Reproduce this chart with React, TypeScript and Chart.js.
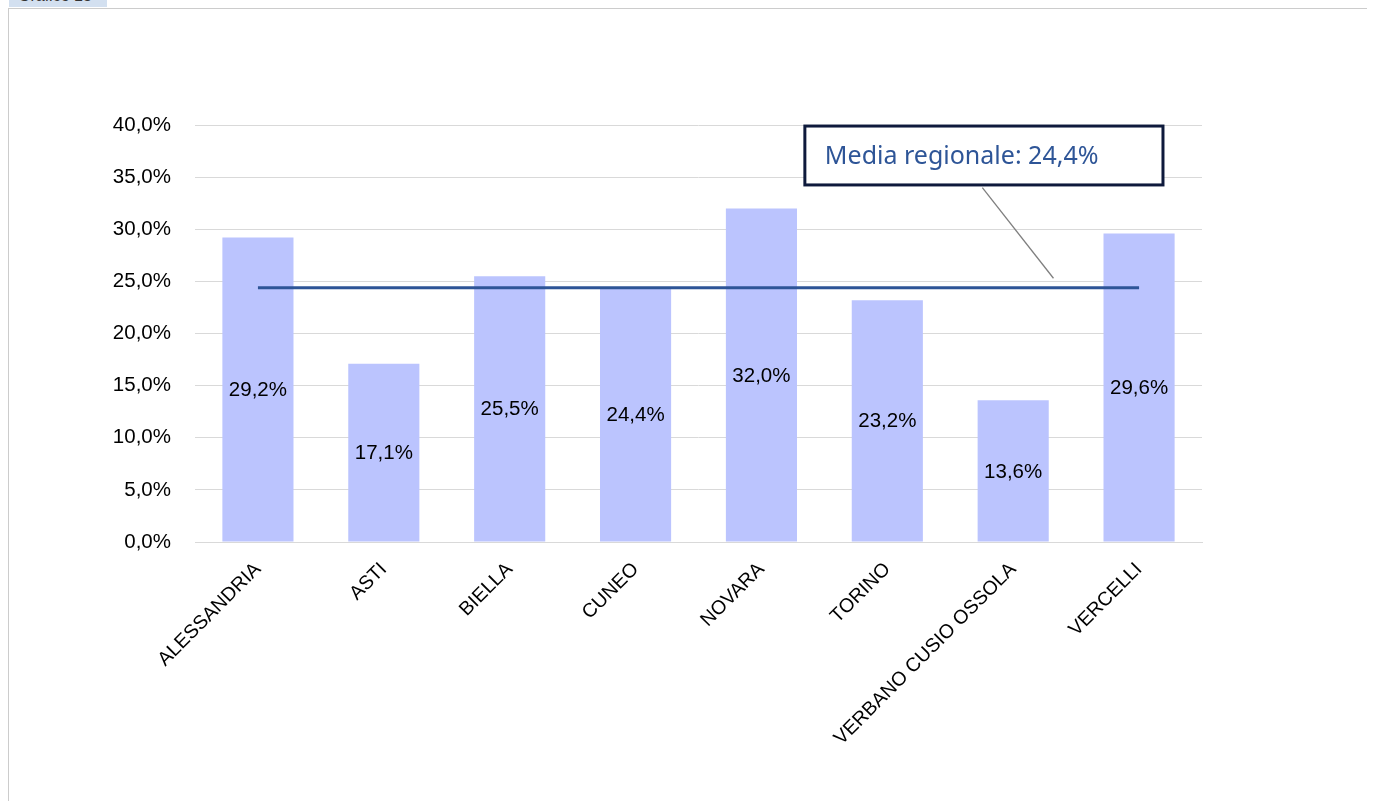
import React, { useEffect, useRef } from "react";
import { Chart, registerables } from "chart.js";

Chart.register(...registerables);

const categories = [
  "ALESSANDRIA",
  "ASTI",
  "BIELLA",
  "CUNEO",
  "NOVARA",
  "TORINO",
  "VERBANO CUSIO OSSOLA",
  "VERCELLI",
];
const values = [29.2, 17.1, 25.5, 24.4, 32.0, 23.2, 13.6, 29.6];
const regionalAverage = 24.4;
const averageLabel = "Media regionale: 24,4%";
const yTicks = { min: 0, max: 40, step: 5 };

const fmt = (v: number) => v.toFixed(1).replace(".", ",") + "%";

const BAR_COLOR = "#BBC4FE";
const LINE_COLOR = "#2E5597";
const FONT = '"Liberation Sans", Arial, sans-serif';

const labelsPlugin = {
  id: "barLabels",
  afterDatasetsDraw(chart: any) {
    const meta = chart.getDatasetMeta(0);
    const ctx = chart.ctx;
    ctx.save();
    ctx.fillStyle = "#000";
    ctx.font = `20.5px ${FONT}`;
    ctx.textAlign = "center";
    ctx.textBaseline = "middle";
    meta.data.forEach((el: any, i: number) => {
      const y = (el.y + el.base) / 2;
      ctx.fillText(fmt(values[i]), el.x, y + 1);
    });
    ctx.restore();
  },
};

const annotationPlugin = {
  id: "avgAnnotation",
  afterDraw(chart: any) {
    const xs = chart.scales.x;
    const ys = chart.scales.y;
    const ctx = chart.ctx;
    const left = xs.getPixelForValue(4.345);
    const right = xs.getPixelForValue(7.19);
    const top = ys.getPixelForValue(39.9);
    const bottom = ys.getPixelForValue(34.25);
    ctx.save();
    ctx.strokeStyle = "#7f7f7f";
    ctx.lineWidth = 1.3;
    ctx.beginPath();
    ctx.moveTo(xs.getPixelForValue(5.755), ys.getPixelForValue(34.0));
    ctx.lineTo(xs.getPixelForValue(6.32), ys.getPixelForValue(25.3));
    ctx.stroke();
    ctx.fillStyle = "#ffffff";
    ctx.fillRect(left, top, right - left, bottom - top);
    ctx.strokeStyle = "#0E1A3C";
    ctx.lineWidth = 3;
    ctx.strokeRect(left, top, right - left, bottom - top);
    ctx.fillStyle = LINE_COLOR;
    ctx.font = '25px "Noto Sans", sans-serif';
    ctx.textAlign = "left";
    ctx.textBaseline = "middle";
    ctx.fillText(averageLabel, left + 20, (top + bottom) / 2 + 1);
    ctx.restore();
  },
};

export default function App() {
  const ref = useRef<HTMLCanvasElement | null>(null);

  useEffect(() => {
    document.documentElement.style.overflow = "hidden";
    if (!ref.current) return;
    const chart = new Chart(ref.current, {
      type: "bar",
      data: {
        labels: categories,
        datasets: [
          {
            type: "bar",
            data: values,
            backgroundColor: BAR_COLOR,
            borderWidth: 0,
            categoryPercentage: 1,
            barPercentage: 0.565,
            order: 2,
          } as any,
          {
            type: "line",
            data: categories.map(() => regionalAverage),
            borderColor: LINE_COLOR,
            borderWidth: 3,
            pointRadius: 0,
            fill: false,
            order: 1,
          } as any,
        ],
      },
      options: {
        responsive: false,
        animation: false,
        layout: { padding: { top: 116, right: 167, left: 0, bottom: 0 } },
        plugins: {
          legend: { display: false },
          tooltip: { enabled: false },
          title: { display: false },
        },
        scales: {
          x: {
            grid: { display: false, drawTicks: false },
            border: { display: true, color: "#d9d9d9", width: 1 },
            ticks: {
              autoSkip: false,
              maxRotation: 45,
              minRotation: 45,
              padding: 16,
              color: "#000",
              font: { family: FONT, size: 19.5 },
            },
            afterFit: (s: any) => {
              s.height = 258;
            },
          },
          y: {
            min: yTicks.min,
            max: yTicks.max,
            grid: { color: "#d9d9d9", lineWidth: 1, drawTicks: false },
            border: { display: false },
            ticks: {
              stepSize: yTicks.step,
              padding: 24,
              color: "#000",
              font: { family: FONT, size: 20.5 },
              callback: (v: any) => fmt(Number(v)),
            },
            afterFit: (s: any) => {
              s.width = 186;
            },
          },
        },
      },
      plugins: [labelsPlugin, annotationPlugin],
    });
    return () => chart.destroy();
  }, []);

  return (
    <>
      <div
        style={{
          position: "fixed",
          left: 9,
          top: 0,
          width: 98,
          height: 7,
          background: "#D3E0F0",
          overflow: "hidden",
          zIndex: 2,
        }}
      >
        <span
          style={{
            position: "absolute",
            left: 9,
            top: -12,
            fontFamily: FONT,
            fontSize: 16,
            lineHeight: "16px",
            color: "#333",
            whiteSpace: "nowrap",
          }}
        >
          Grafico 13
        </span>
      </div>
      <div
        style={{
          position: "relative",
          width: 1362,
          height: 800,
          boxSizing: "border-box",
          border: "1px solid #cccccc",
          background: "#fff",
        }}
      >
        <canvas ref={ref} width={1360} height={791} style={{ display: "block" }} />
      </div>
    </>
  );
}
